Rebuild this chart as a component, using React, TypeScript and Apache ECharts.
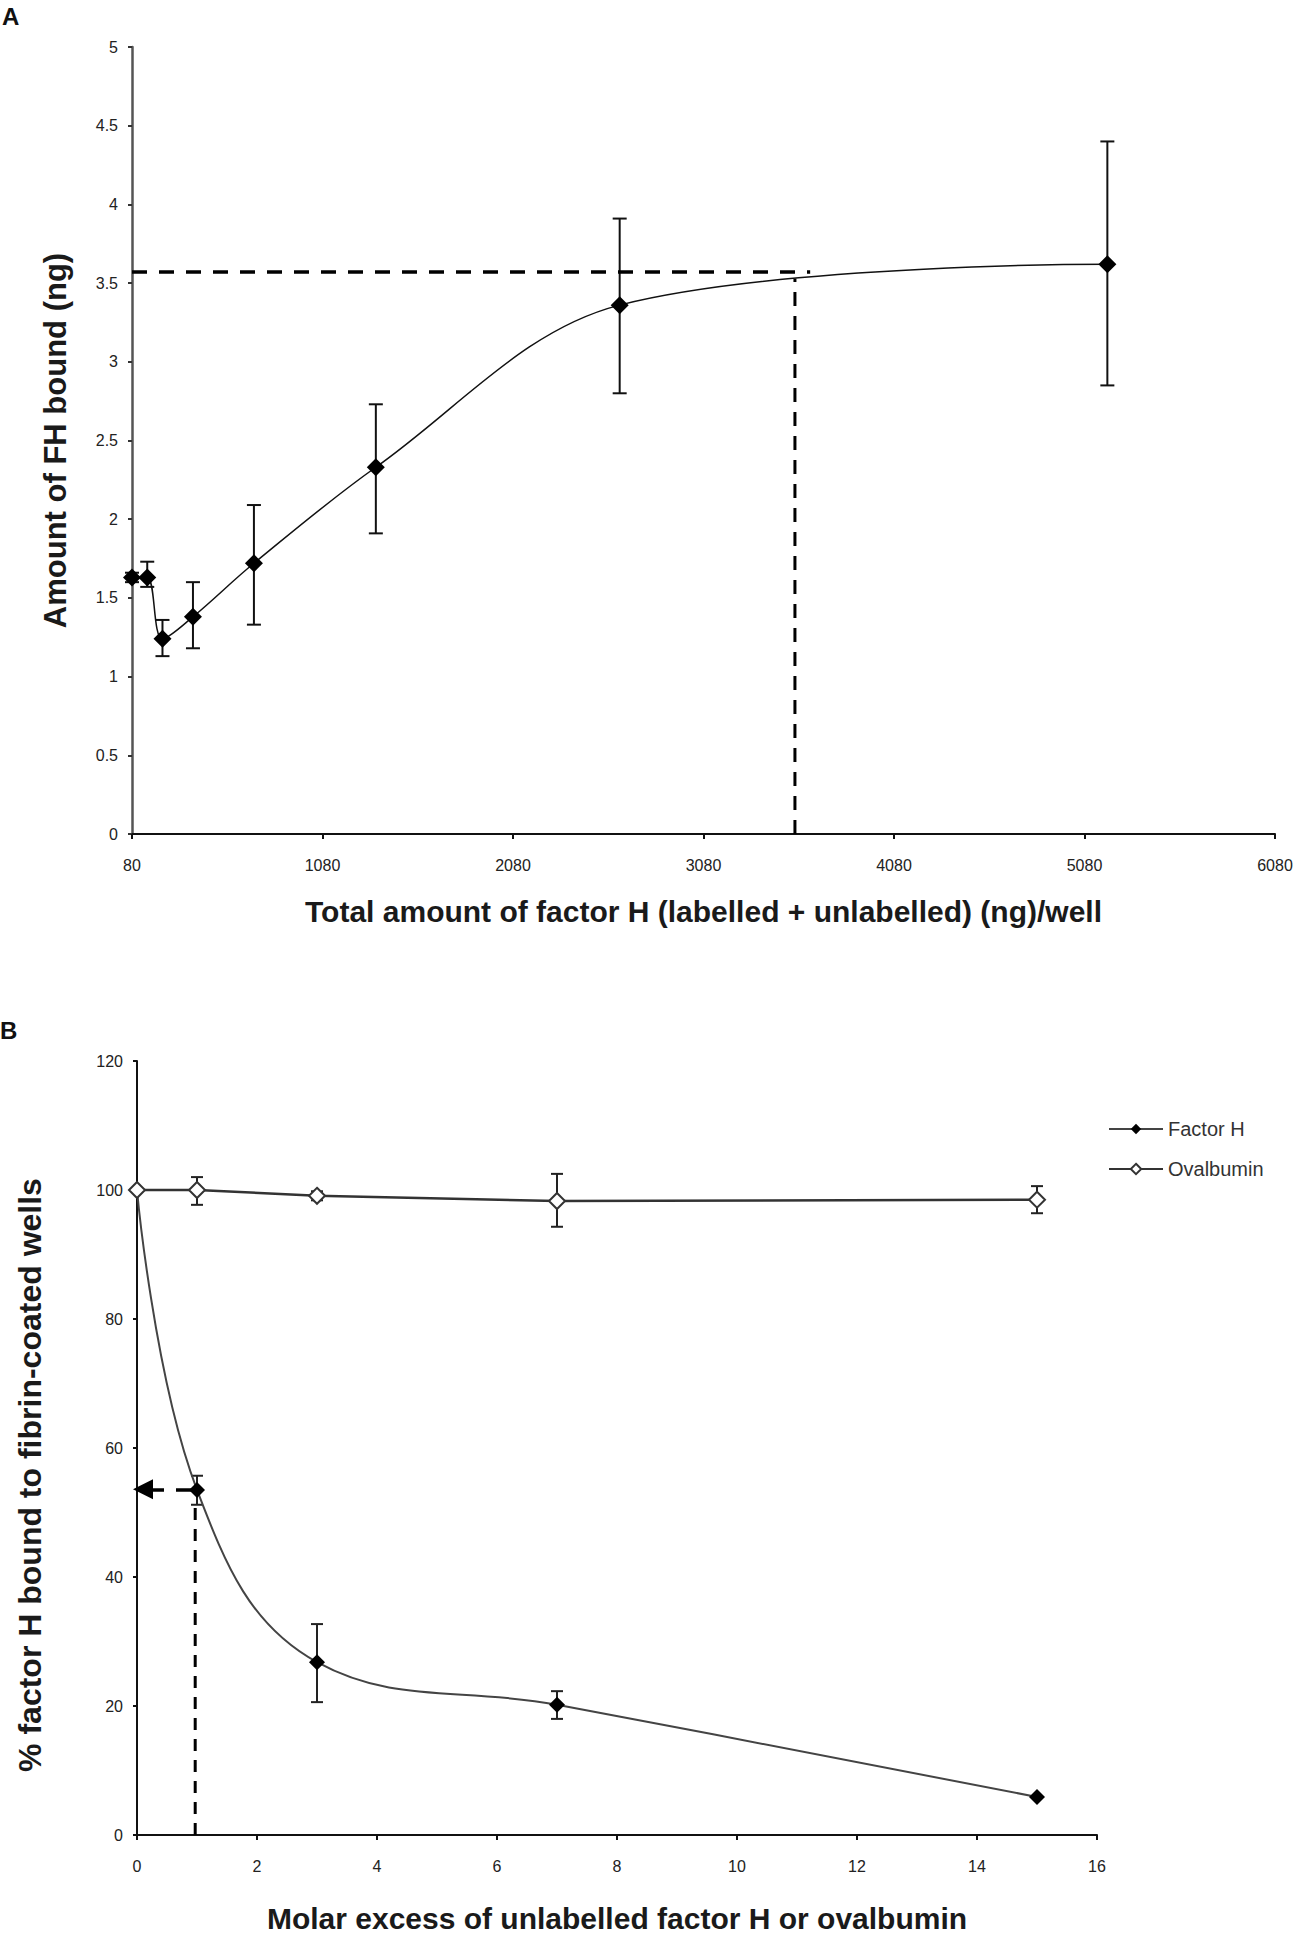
import React, { useEffect, useRef } from "react";
import * as echarts from "echarts";

// Panel A data
const aX = [80, 160, 240, 400, 720, 1360, 2640, 5200];
const aY = [1.63, 1.63, 1.24, 1.38, 1.72, 2.33, 3.36, 3.62];
const aLow = [1.6, 1.57, 1.13, 1.18, 1.33, 1.91, 2.8, 2.85];
const aHigh = [1.66, 1.73, 1.36, 1.6, 2.09, 2.73, 3.91, 4.4];
const aXTicks = [80, 1080, 2080, 3080, 4080, 5080, 6080];
const aHoriz = [[80, 3.57], [3640, 3.57]];
const aVert = [[3560, 0], [3560, 3.53]];

// Panel B data
const bX = [0, 1, 3, 7, 15];
const fhY = [100, 53.5, 26.8, 20.2, 5.9];
const fhLow = [100, 51.2, 20.6, 18.0, 5.9];
const fhHigh = [100, 55.7, 32.7, 22.3, 5.9];
const ovY = [100, 100, 99.1, 98.3, 98.5];
const ovLow = [100, 97.7, 98.4, 94.3, 96.4];
const ovHigh = [100, 102.0, 99.8, 102.5, 100.6];
const bVert = [[0.97, 0], [0.97, 51.5]];
const bArrow = [[0.9, 53.6], [0.1, 53.6]];

const zip = (xs: number[], ys: number[]) => xs.map((x, i) => [x, ys[i]]);
const zip3 = (xs: number[], lo: number[], hi: number[]) => xs.map((x, i) => [x, lo[i], hi[i]]);

const errRender = (cap: number, color: string) => (params: any, api: any) => {
  const x = api.value(0);
  const lo = api.value(1);
  const hi = api.value(2);
  const t = api.coord([x, hi]);
  const b = api.coord([x, lo]);
  const st = { stroke: color, lineWidth: 2 };
  return {
    type: "group",
    children: [
      { type: "line", shape: { x1: t[0], y1: t[1], x2: b[0], y2: b[1] }, style: st },
      { type: "line", shape: { x1: t[0] - cap, y1: t[1], x2: t[0] + cap, y2: t[1] }, style: st },
      { type: "line", shape: { x1: b[0] - cap, y1: b[1], x2: b[0] + cap, y2: b[1] }, style: st },
    ],
  };
};

const FONT = "Arial, 'Liberation Sans', sans-serif";

export default function App() {
  const ref = useRef<HTMLDivElement>(null);
  useEffect(() => {
    document.body.style.margin = "0";
    const chart = echarts.init(ref.current!, null, { renderer: "svg" });
    const tickLabel = { color: "#222", fontSize: 16, fontFamily: FONT };
    const nameStyle = (size: number, extra: any = {}) => ({
      color: "#1a1a1a",
      fontSize: size,
      fontWeight: "bold" as const,
      fontFamily: FONT,
      ...extra,
    });
    const plain = (v: number) => String(v);
    chart.setOption({
      animation: false,
      backgroundColor: "#fff",
      textStyle: { fontFamily: FONT },
      graphic: [
        { type: "text", left: 2, top: 4, style: { text: "A", font: `bold 24px ${FONT}`, fill: "#111" } },
        { type: "text", left: 0, top: 1018, style: { text: "B", font: `bold 24px ${FONT}`, fill: "#111" } },
      ],
      legend: {
        data: ["Factor H", "Ovalbumin"],
        orient: "vertical",
        left: 1103,
        top: 1114,
        itemWidth: 54,
        itemHeight: 13,
        itemGap: 20,
        textStyle: { color: "#333", fontSize: 20, fontFamily: FONT },
      },
      grid: [
        { left: 132, right: 28, top: 47, height: 787 },
        { left: 137, width: 960, top: 1061, height: 774 },
      ],
      xAxis: [
        {
          gridIndex: 0,
          type: "value",
          min: 80,
          max: 6080,
          splitLine: { show: false },
          axisLine: { lineStyle: { color: "#111", width: 2 } },
          axisTick: { show: true, length: 5, customValues: aXTicks, lineStyle: { color: "#111", width: 2 } },
          axisLabel: { ...tickLabel, margin: 23, customValues: aXTicks, formatter: plain },
          name: "Total amount of factor H (labelled + unlabelled) (ng)/well",
          nameLocation: "middle",
          nameGap: 62,
          nameTextStyle: nameStyle(30),
        },
        {
          gridIndex: 1,
          type: "value",
          min: 0,
          max: 16,
          interval: 2,
          splitLine: { show: false },
          axisLine: { lineStyle: { color: "#111", width: 2 } },
          axisTick: { length: 5, lineStyle: { color: "#111", width: 2 } },
          axisLabel: { ...tickLabel, margin: 23, formatter: plain },
          name: "Molar excess of unlabelled factor H or ovalbumin",
          nameLocation: "middle",
          nameGap: 68,
          nameTextStyle: nameStyle(30),
        },
      ],
      yAxis: [
        {
          gridIndex: 0,
          type: "value",
          min: 0,
          max: 5,
          interval: 0.5,
          splitLine: { show: false },
          axisLine: { lineStyle: { color: "#555", width: 2.5 } },
          axisTick: { length: 4, lineStyle: { color: "#333", width: 2 } },
          axisLabel: { ...tickLabel, margin: 14, formatter: plain },
          name: "Amount of FH bound (ng)",
          nameLocation: "middle",
          nameGap: 61,
          nameTextStyle: nameStyle(31),
        },
        {
          gridIndex: 1,
          type: "value",
          min: 0,
          max: 120,
          interval: 20,
          splitLine: { show: false },
          axisLine: { lineStyle: { color: "#111", width: 2 } },
          axisTick: { length: 4, lineStyle: { color: "#111", width: 2 } },
          axisLabel: { ...tickLabel, margin: 14, formatter: plain },
          name: "% factor H bound to fibrin-coated wells",
          nameLocation: "middle",
          nameGap: 91,
          nameTextStyle: nameStyle(32, { padding: [0, 54, 0, 0] }),
        },
      ],
      series: [
        {
          type: "custom",
          xAxisIndex: 0,
          yAxisIndex: 0,
          renderItem: errRender(7, "#111"),
          encode: { x: 0, y: [1, 2] },
          data: zip3(aX, aLow, aHigh),
          z: 1,
        },
        {
          type: "line",
          xAxisIndex: 0,
          yAxisIndex: 0,
          data: zip(aX, aY),
          smooth: 0.35,
          symbol: "diamond",
          symbolSize: 18,
          itemStyle: { color: "#000" },
          lineStyle: { color: "#111", width: 1.5 },
          z: 3,
        },
        {
          type: "line",
          xAxisIndex: 0,
          yAxisIndex: 0,
          data: aHoriz,
          symbol: "none",
          lineStyle: { color: "#000", width: 3.5, type: [15, 12] },
          z: 2,
        },
        {
          type: "line",
          xAxisIndex: 0,
          yAxisIndex: 0,
          data: aVert,
          symbol: "none",
          lineStyle: { color: "#000", width: 3, type: [14, 10] },
          z: 2,
        },
        {
          type: "custom",
          xAxisIndex: 1,
          yAxisIndex: 1,
          renderItem: errRender(6, "#222"),
          encode: { x: 0, y: [1, 2] },
          data: zip3(bX, fhLow, fhHigh),
          z: 1,
        },
        {
          type: "custom",
          xAxisIndex: 1,
          yAxisIndex: 1,
          renderItem: errRender(6, "#222"),
          encode: { x: 0, y: [1, 2] },
          data: zip3(bX, ovLow, ovHigh),
          z: 1,
        },
        {
          name: "Factor H",
          type: "line",
          xAxisIndex: 1,
          yAxisIndex: 1,
          data: zip(bX, fhY),
          smooth: 0.4,
          symbol: "diamond",
          symbolSize: 16,
          itemStyle: { color: "#000" },
          lineStyle: { color: "#444", width: 2 },
          z: 3,
        },
        {
          name: "Ovalbumin",
          type: "line",
          xAxisIndex: 1,
          yAxisIndex: 1,
          data: zip(bX, ovY),
          symbol: "diamond",
          symbolSize: 16,
          itemStyle: { color: "#fff", borderColor: "#333", borderWidth: 2 },
          lineStyle: { color: "#333", width: 2.5 },
          z: 4,
        },
        {
          type: "line",
          xAxisIndex: 1,
          yAxisIndex: 1,
          data: bVert,
          symbol: "none",
          lineStyle: { color: "#000", width: 3, type: [12, 9] },
          z: 2,
        },
        {
          type: "line",
          xAxisIndex: 1,
          yAxisIndex: 1,
          data: [],
          symbol: "none",
          markLine: {
            silent: true,
            symbol: ["none", "triangle"],
            symbolSize: [20, 20],
            label: { show: false },
            lineStyle: { color: "#000", width: 3.5, type: [15, 12] },
            data: [[{ coord: bArrow[0] }, { coord: bArrow[1] }]],
          },
          z: 2,
        },
      ],
    });
    return () => chart.dispose();
  }, []);
  return <div ref={ref} style={{ width: 1303, height: 1952 }} />;
}
